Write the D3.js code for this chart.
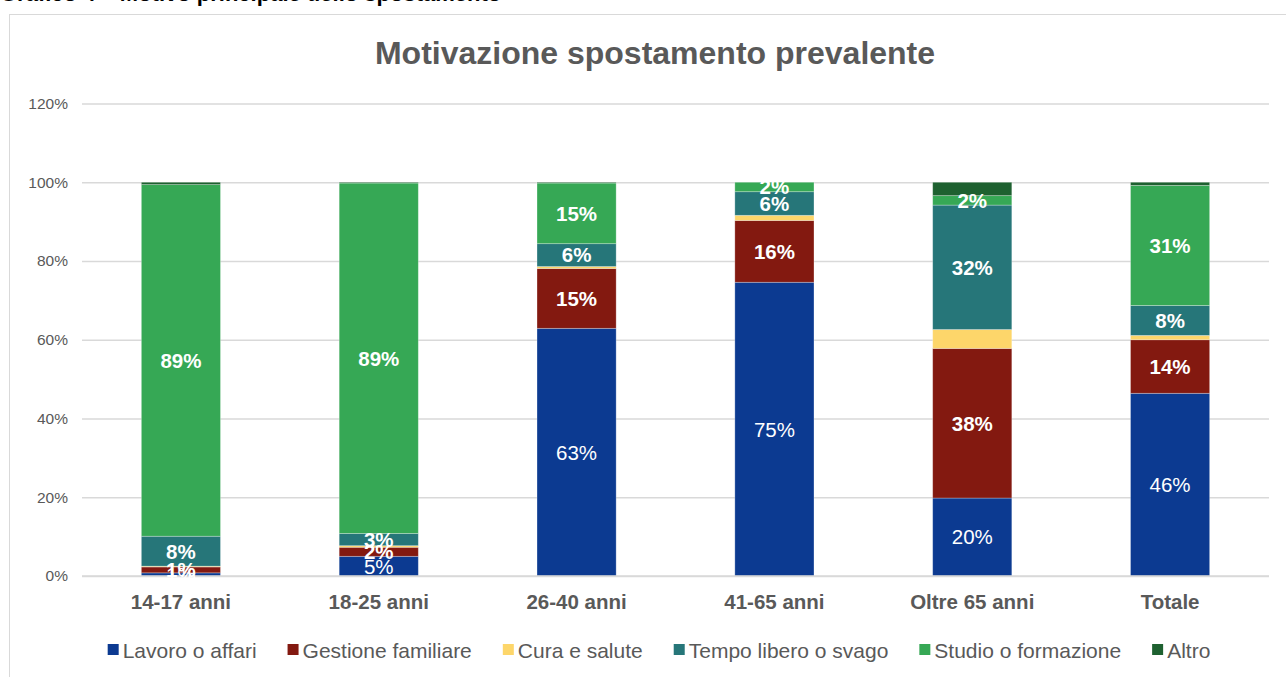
<!DOCTYPE html>
<html><head><meta charset="utf-8">
<script src="https://cdn.jsdelivr.net/npm/d3@7"></script>
<style>
html,body{margin:0;padding:0;background:#fff;overflow:hidden;}
svg{display:block;font-family:"Liberation Sans",Arial,sans-serif;}
</style></head>
<body>
<svg id="chart" width="1286" height="677"></svg>
<script>
const categories = ["14-17 anni","18-25 anni","26-40 anni","41-65 anni","Oltre 65 anni","Totale"];
const seriesNames = ["Lavoro o affari","Gestione familiare","Cura e salute","Tempo libero o svago","Studio o formazione","Altro"];
const seriesColors = ["#0C3A91","#831910","#FDD66A","#267679","#36A855","#1E6130"];
const lavoro    = [0.8, 5.0, 62.9, 74.6, 19.8, 46.4];
const gestione  = [1.5, 2.3, 15.2, 15.7, 38.0, 13.6];
const cura      = [0.2, 0.4, 0.5, 1.3, 4.8, 1.1];
const tempo     = [7.6, 3.1, 5.8, 6.0, 31.6, 7.6];
const studio    = [89.3, 89.0, 15.4, 2.4, 2.4, 30.5];
const altro     = [0.6, 0.2, 0.2, 0.0, 3.4, 0.8];
const yTicks = [0, 20, 40, 60, 80, 100, 120];
const labelledSeries = [true, true, false, true, true, false];
const boldLabels = [false, true, true, true, true, true];
const chartTitle = "Motivazione spostamento prevalente";
const pageHeading = "Grafico 4 – Motivo principale dello spostamento";

const values = [lavoro, gestione, cura, tempo, studio, altro];
const rows = categories.map((c, i) => {
  const r = {cat: c};
  seriesNames.forEach((s, j) => r[s] = values[j][i]);
  return r;
});
const stacked = d3.stack().keys(seriesNames)(rows);

const svg = d3.select("#chart");
const grey = "#595959";

// cut-off heading above the chart frame
svg.append("text").attr("x", 0).attr("y", 1)
  .attr("font-size", 22).attr("font-weight", "bold").attr("fill", "#000")
  .text(pageHeading);

// chart frame
svg.append("rect").attr("x", 9.5).attr("y", 14.5).attr("width", 1290).attr("height", 700)
  .attr("fill", "#fff").attr("stroke", "#d9d9d9").attr("stroke-width", 1);

const x = d3.scaleBand().domain(categories).range([82, 1269]).paddingInner(0.6).paddingOuter(0.3);
const y = d3.scaleLinear().domain([0, 120]).range([576, 103.5]);

// title
svg.append("text").attr("x", 655).attr("y", 64).attr("text-anchor", "middle")
  .attr("font-size", 32).attr("font-weight", "bold").attr("fill", grey)
  .text(chartTitle);

// gridlines + y axis
const yAxis = d3.axisLeft(y).tickValues(yTicks).tickSize(-(1269 - 82)).tickFormat(d => d + "%");
const gy = svg.append("g").attr("transform", "translate(82,0)").call(yAxis);
gy.select(".domain").remove();
gy.selectAll(".tick line").attr("stroke", "#d9d9d9").attr("stroke-width", 1.3);
gy.selectAll(".tick text").attr("x", -14).attr("fill", grey).attr("font-size", 15.5)
  .attr("font-family", "Liberation Sans, Arial, sans-serif");

// bars
const layers = svg.append("g").selectAll("g").data(stacked).join("g")
  .attr("fill", (d, i) => seriesColors[i]);
layers.selectAll("rect").data(d => d).join("rect")
  .attr("x", d => x(d.data.cat))
  .attr("width", x.bandwidth())
  .attr("y", d => y(d[1]))
  .attr("height", d => Math.max(0, y(d[0]) - y(d[1])))
  .attr("stroke", "#ffffff").attr("stroke-opacity", 0.35).attr("stroke-width", 0.8);

// baseline axis
const gx = svg.append("g").attr("transform", "translate(0,576)")
  .call(d3.axisBottom(x).tickSize(0).tickPadding(0));
gx.select(".domain").attr("stroke", "#d9d9d9").attr("stroke-width", 1.3)
  .attr("d", "M82,0H1269");
gx.selectAll(".tick text").attr("y", 33).attr("dy", 0).attr("fill", grey)
  .attr("font-size", 20.5).attr("font-weight", "bold")
  .attr("font-family", "Liberation Sans, Arial, sans-serif");

// data labels
stacked.forEach((layer, i) => {
  if (!labelledSeries[i]) return;
  svg.append("g").selectAll("text").data(layer).join("text")
    .attr("x", d => x(d.data.cat) + x.bandwidth() / 2)
    .attr("y", d => (y(d[0]) + y(d[1])) / 2)
    .attr("dy", "0.36em")
    .attr("text-anchor", "middle")
    .attr("fill", "#fff")
    .attr("font-size", 20.5)
    .attr("font-weight", boldLabels[i] ? "bold" : "normal")
    .text(d => Math.round(d[1] - d[0]) + "%");
});

// legend
const legend = svg.append("g");
const items = legend.selectAll("g").data(seriesNames).join("g");
items.append("rect").attr("width", 11).attr("height", 11).attr("y", -6)
  .attr("fill", (d, i) => seriesColors[i]);
items.append("text").attr("x", 15).attr("dy", "0.36em")
  .attr("font-size", 21).attr("fill", grey).text(d => d);
let offset = 0;
const positions = [];
const itemGap = 31;
items.each(function () {
  const w = 15 + d3.select(this).select("text").node().getComputedTextLength();
  positions.push(offset);
  offset += w + itemGap;
});
const totalW = offset - itemGap;
const startX = 659 - totalW / 2;
items.attr("transform", (d, i) => `translate(${startX + positions[i]},650)`);
</script>
</body></html>
